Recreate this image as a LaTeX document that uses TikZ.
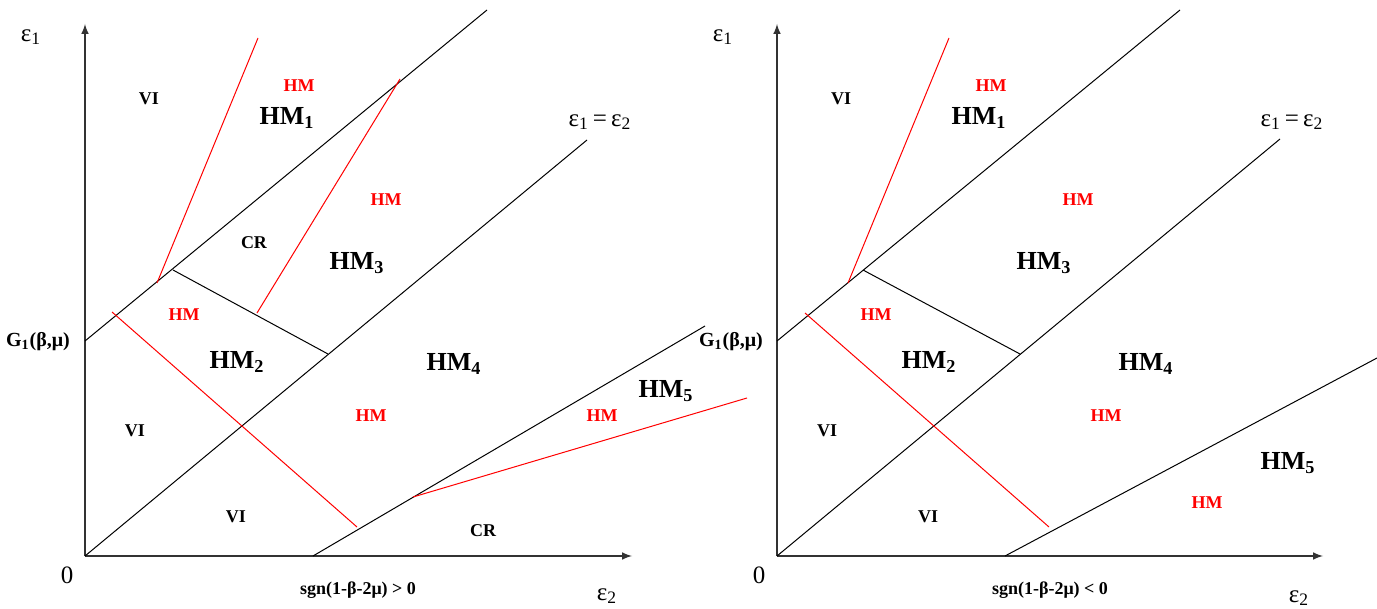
\documentclass[tikz,border=0pt]{standalone}
\usepackage{fontspec}
\setmainfont{Liberation Serif}
\newcommand{\lowsub}[1]{\textsubscript{#1}}
\begin{document}
\begin{tikzpicture}[x=0.5pt,y=-0.5pt,line width=0.5pt,
  every node/.style={inner sep=0pt,font=\bfseries\fontsize{9}{10}\selectfont},
  big/.style={font=\bfseries\fontsize{13}{14}\selectfont},
  hm/.style={text=red},
  axlbl/.style={font=\fontsize{12.5}{14}\selectfont},
  glbl/.style={font=\bfseries\fontsize{10}{11}\selectfont}]
\useasboundingbox (0,0) rectangle (1377,609);
% left panel: sgn > 0
\coordinate (lO) at (85,556);
\coordinate (lY) at (85,24);
\coordinate (lX) at (632,556);
\coordinate (lG) at (85,341);
\coordinate (lU) at (487,10);
\coordinate (lD) at (587,140);
\coordinate (lA) at (173,270);
\coordinate (lB) at (328,354);
\coordinate (lP) at (157,283);
\coordinate (lPt) at (258,38);
\coordinate (lQ) at (400,79);
\coordinate (lQb) at (257,313);
\coordinate (lR) at (112,312);
\coordinate (lRb) at (357,527);
\coordinate (lL) at (313,556);
\coordinate (lLe) at (705,326);
\coordinate (lS) at (413,497);
\coordinate (lSe) at (747,398);
% right panel: sgn < 0
\coordinate (rO) at (777,556);
\coordinate (rY) at (777,24);
\coordinate (rX) at (1323,556);
\coordinate (rG) at (777,341);
\coordinate (rU) at (1180,10);
\coordinate (rD) at (1280,139);
\coordinate (rA) at (863,270);
\coordinate (rB) at (1020,354);
\coordinate (rP) at (848,283);
\coordinate (rPt) at (949,38);
\coordinate (rR) at (805,313);
\coordinate (rRb) at (1049,527);
\coordinate (rL) at (1005,556);
\coordinate (rLe) at (1377,358);
% axes
\foreach \a/\b in {lO/lY,lO/lX,rO/rY,rO/rX}
  \draw[-latex,line width=0.7pt,black!80] (\a)--(\b);
% boundaries
\foreach \a/\b in {lG/lU,lO/lD,lA/lB,lL/lLe,rG/rU,rO/rD,rA/rB,rL/rLe}
  \draw (\a)--(\b);
\foreach \a/\b in {lP/lPt,lQ/lQb,lR/lRb,lS/lSe,rP/rPt,rR/rRb}
  \draw[red] (\a)--(\b);
% left labels
\node[axlbl] (le1) at (31,37) {ε\lowsub{1}};
\node[axlbl] (le2) at (607,596) {ε\lowsub{2}};
\node[axlbl] (leq) at (600,122) {ε\lowsub{1}\,=\,ε\lowsub{2}};
\node[axlbl] (l0) at (67,575) {0};
\node[glbl] (lg1) at (38,342) {G\lowsub{1}(β,μ)};
\node (lsgn) at (358,590) {sgn(1-β-2μ) > 0};
\node (lvi1) at (149,99) {VI};
\node (lvi2) at (135,431) {VI};
\node (lvi3) at (236,517) {VI};
\node (lcr1) at (254,243) {CR};
\node (lcr2) at (483,531) {CR};
\node[hm] (lhm1) at (299,86) {HM};
\node[hm] (lhm2) at (386,200) {HM};
\node[hm] (lhm3) at (184,315) {HM};
\node[hm] (lhm4) at (371,416) {HM};
\node[hm] (lhm5) at (602,416) {HM};
\node[big] (lm1) at (287,118) {HM\lowsub{1}};
\node[big] (lm2) at (237,362) {HM\lowsub{2}};
\node[big] (lm3) at (357,263) {HM\lowsub{3}};
\node[big] (lm4) at (454,364) {HM\lowsub{4}};
\node[big] (lm5) at (666,391) {HM\lowsub{5}};
% right labels
\node[axlbl] (re1) at (723,37) {ε\lowsub{1}};
\node[axlbl] (re2) at (1299,598) {ε\lowsub{2}};
\node[axlbl] (req) at (1292,122) {ε\lowsub{1}\,=\,ε\lowsub{2}};
\node[axlbl] (r0) at (759,575) {0};
\node[glbl] (rg1) at (731,342) {G\lowsub{1}(β,μ)};
\node (rsgn) at (1050,590) {sgn(1-β-2μ) < 0};
\node (rvi1) at (841,99) {VI};
\node (rvi2) at (827,431) {VI};
\node (rvi3) at (928,517) {VI};
\node[hm] (rhm1) at (991,86) {HM};
\node[hm] (rhm2) at (1078,200) {HM};
\node[hm] (rhm3) at (876,315) {HM};
\node[hm] (rhm4) at (1106,416) {HM};
\node[hm] (rhm5) at (1207,503) {HM};
\node[big] (rm1) at (979,118) {HM\lowsub{1}};
\node[big] (rm2) at (929,362) {HM\lowsub{2}};
\node[big] (rm3) at (1044,263) {HM\lowsub{3}};
\node[big] (rm4) at (1146,364) {HM\lowsub{4}};
\node[big] (rm5) at (1288,463) {HM\lowsub{5}};
\end{tikzpicture}
\end{document}
